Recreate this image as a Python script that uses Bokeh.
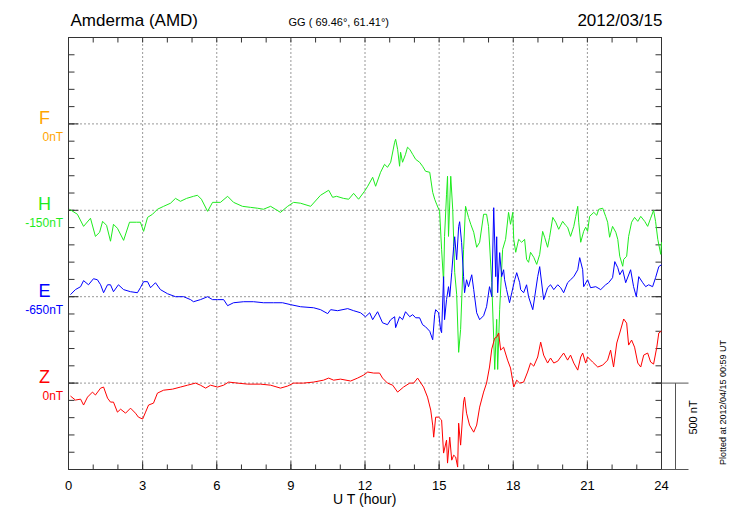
from math import pi
import numpy as np
from bokeh.plotting import figure
from bokeh.models import Range1d
from bokeh.core.properties import value
from bokeh.embed import file_html
from bokeh.resources import INLINE

# ---------------- data (nT deviation from each trace's baseline value) ----------------
station = "Amderma (AMD)"
coords = "GG ( 69.46\u00b0,  61.41\u00b0)"
date = "2012/03/15"
plotted = "Plotted at 2012/04/15 00:59 UT"
x_label = "U T (hour)"

components = ["F", "H", "E", "Z"]
base_labels = ["0nT", "-150nT", "-650nT", "0nT"]
offsets = [2000, 1500, 1000, 500]          # vertical stacking position (nT) on the panel
colors = ["#FFA500", "#1EEB1E", "#0000FF", "#FF0000"]

hour_ticks = [0, 3, 6, 9, 12, 15, 18, 21, 24]
scale_nt = 500

h_t = [0.04, 0.36, 0.61, 0.89, 1.09, 1.26, 1.38, 1.54, 1.70, 1.82, 1.98, 2.23, 2.47, 2.75, 2.91, 3.04, 3.20, 3.40, 3.60, 3.85,
       4.13, 4.33, 4.53, 4.78, 5.06, 5.22, 5.38, 5.63, 5.83, 6.15, 6.44, 6.68, 7.04, 7.37, 7.65, 7.89, 8.18, 8.58, 8.87, 9.11,
       9.39, 9.80, 10.20, 10.53, 10.69, 10.85, 11.13, 11.34, 11.54, 11.74, 11.98, 12.11, 12.31, 12.43, 12.63, 12.79, 12.91, 13.04, 13.20, 13.24,
       13.32, 13.40, 13.44, 13.52, 13.64, 13.72, 13.81, 13.93, 14.05, 14.21, 14.33, 14.45, 14.62, 14.74, 14.82, 14.90, 15.02, 15.10, 15.18, 15.22,
       15.30, 15.34, 15.38, 15.47, 15.55, 15.63, 15.71, 15.79, 15.87, 15.99, 16.07, 16.19, 16.28, 16.40, 16.52, 16.64, 16.80, 16.92, 17.00, 17.13,
       17.21, 17.25, 17.33, 17.37, 17.45, 17.57, 17.69, 17.81, 17.89, 17.98, 18.02, 18.10, 18.22, 18.34, 18.46, 18.54, 18.62, 18.70, 18.83, 18.95,
       19.07, 19.19, 19.27, 19.39, 19.47, 19.60, 19.72, 19.84, 20.00, 20.12, 20.20, 20.32, 20.45, 20.53, 20.61, 20.65, 20.73, 20.85, 20.93, 21.01,
       21.09, 21.26, 21.38, 21.46, 21.62, 21.74, 21.82, 21.90, 22.02, 22.15, 22.23, 22.31, 22.43, 22.47, 22.59, 22.67, 22.79, 22.91, 23.04, 23.16,
       23.32, 23.44, 23.56, 23.68, 23.76, 23.85, 23.97, 24.00]
h_nt = [6, -23, -93, -46, -151, -127, -64, -87, -179, -81, -104, -174, -69, -69, -69, -122, -41, -23, 6, 23,
        41, 69, 52, 69, 81, 87, 64, -6, 46, 46, 81, 46, 23, 17, 12, 6, 23, -12, 23, 46,
        41, 23, 87, 116, 75, 81, 69, 64, 98, 64, 110, 139, 191, 139, 220, 266, 249, 278, 394, 411,
        353, 255, 336, 278, 324, 365, 353, 324, 295, 278, 255, 226, 220, 104, 64, 35, -6, -226, -417, -151,
        93, 197, -151, 197, 6, -359, -486, -822, -689, -226, 23, -41, -81, -127, -214, -185, -23, -23, -93, -417,
        -747, -921, -631, -921, -573, -226, -168, -12, -81, -12, -168, -243, -168, -185, -168, -284, -301, -243, -272, -313,
        -255, -122, -156, -214, -156, -41, -69, -110, -64, -87, -98, -151, -93, -35, 23, -69, -185, -122, -98, -122,
        -35, -12, -29, 6, 12, -35, -69, -156, -93, -127, -168, -266, -324, -284, -266, -151, -69, -41, -64, -35,
        -64, -93, -46, 0, -64, -168, -255, -185]

e_t = [0.08, 0.28, 0.49, 0.61, 0.81, 1.01, 1.17, 1.30, 1.42, 1.58, 1.70, 1.82, 2.02, 2.23, 2.51, 2.79, 2.91, 3.04, 3.20, 3.32,
       3.52, 3.72, 4.01, 4.33, 4.66, 4.94, 5.06, 5.34, 5.63, 5.83, 6.03, 6.28, 6.44, 6.68, 7.09, 7.49, 7.89, 8.30, 8.66, 8.99,
       9.39, 9.92, 10.20, 10.49, 10.61, 10.89, 11.30, 11.54, 11.82, 12.02, 12.19, 12.31, 12.51, 12.71, 12.91, 13.04, 13.20, 13.24, 13.40, 13.52,
       13.64, 13.81, 13.93, 14.05, 14.21, 14.33, 14.45, 14.62, 14.74, 14.82, 14.86, 14.98, 15.06, 15.10, 15.18, 15.22, 15.30, 15.38, 15.43, 15.51,
       15.59, 15.63, 15.71, 15.79, 15.83, 15.91, 15.99, 16.03, 16.11, 16.19, 16.32, 16.40, 16.52, 16.64, 16.80, 16.92, 17.04, 17.13, 17.21, 17.29,
       17.33, 17.37, 17.45, 17.53, 17.61, 17.65, 17.73, 17.85, 17.94, 18.06, 18.14, 18.26, 18.30, 18.42, 18.54, 18.62, 18.79, 18.87, 18.99, 19.07,
       19.23, 19.39, 19.51, 19.64, 19.80, 19.92, 20.04, 20.20, 20.32, 20.45, 20.61, 20.69, 20.81, 20.85, 21.01, 21.13, 21.34, 21.54, 21.74, 21.86,
       22.02, 22.11, 22.23, 22.31, 22.43, 22.55, 22.75, 22.87, 22.98, 23.08, 23.24, 23.36, 23.48, 23.64, 23.76, 23.89, 24.00]
e_nt = [12, 41, 58, 93, 69, 104, 98, 69, 23, 69, 69, 29, 69, 41, 29, 23, 52, 87, 87, 52,
        81, 41, 17, 0, 0, -17, -29, -17, 0, -17, -17, -17, -52, -35, -29, -29, -35, -35, -35, -46,
        -58, -64, -75, -98, -75, -81, -69, -81, -93, -116, -93, -133, -87, -151, -162, -133, -116, -179, -116, -133,
        -87, -116, -104, -122, -122, -162, -174, -200, -249, -104, -75, -93, -191, -208, 116, -133, -17, 58, 0, 139,
        290, 347, 214, 405, 434, 313, 116, 23, 98, 58, 127, 41, -93, -133, -110, -58, 58, 0, 515, 116,
        347, 23, 255, 116, 156, 98, 41, -35, 23, 98, 139, 81, 41, 23, 69, 0, -75, 0, 116, 174,
        -17, 52, 69, 41, 69, 52, 23, 81, 98, 116, 156, 226, 156, 58, 98, 52, 58, 41, 69, 81,
        110, 203, 168, 127, 156, 81, 156, 58, 0, 116, 81, 58, 69, 58, 110, 174, 185]

z_t = [0.08, 0.28, 0.49, 0.61, 0.77, 0.97, 1.09, 1.30, 1.42, 1.58, 1.70, 1.82, 1.98, 2.11, 2.31, 2.51, 2.71, 2.83, 3.00, 3.12,
       3.24, 3.44, 3.60, 3.85, 4.21, 4.53, 4.82, 5.14, 5.34, 5.55, 5.75, 6.03, 6.28, 6.48, 6.84, 7.25, 7.77, 8.18, 8.58, 8.87,
       9.11, 9.51, 9.92, 10.32, 10.53, 10.73, 11.01, 11.42, 11.70, 11.94, 12.11, 12.35, 12.59, 12.71, 12.91, 13.12, 13.32, 13.56, 13.81, 13.97,
       14.13, 14.37, 14.53, 14.66, 14.74, 14.78, 14.86, 14.98, 15.10, 15.18, 15.30, 15.34, 15.43, 15.51, 15.59, 15.67, 15.75, 15.79, 15.87, 15.99,
       16.03, 16.11, 16.23, 16.40, 16.52, 16.64, 16.80, 16.92, 17.04, 17.13, 17.25, 17.33, 17.41, 17.49, 17.61, 17.77, 17.89, 18.02, 18.14, 18.26,
       18.42, 18.58, 18.70, 18.83, 18.99, 19.11, 19.23, 19.39, 19.51, 19.64, 19.80, 19.92, 20.04, 20.20, 20.32, 20.45, 20.61, 20.73, 20.81, 20.93,
       21.01, 21.21, 21.42, 21.62, 21.82, 21.94, 22.06, 22.19, 22.31, 22.47, 22.59, 22.67, 22.79, 22.91, 23.04, 23.16, 23.28, 23.44, 23.56, 23.68,
       23.81, 23.89, 24.00]
z_nt = [-75, -98, -93, -127, -81, -52, -69, -29, -23, -87, -110, -110, -168, -151, -174, -145, -174, -197, -208, -168,
        -127, -116, -58, -41, -35, -23, -12, 0, -12, -29, -12, -23, -12, 6, 0, -6, -6, -12, -29, -17,
        0, 0, 6, 17, 29, 17, 23, 12, 29, 46, 64, 58, 58, 29, 0, -12, -52, -23, 0, 0,
        29, -23, -81, -156, -243, -313, -197, -197, -214, -405, -330, -463, -313, -446, -417, -428, -486, -232, -359, -110,
        -81, -174, -243, -284, -243, -139, -52, 0, 93, 197, 260, 266, 290, 191, 208, 133, 87, -23, 17, 0,
        6, 64, 116, 98, 151, 237, 162, 116, 145, 116, 127, 151, 174, 133, 162, 116, 75, 151, 174, 116,
        151, 122, 93, 104, 133, 191, 93, 232, 290, 371, 347, 220, 249, 208, 116, 93, 162, 174, 122, 110,
        208, 290, 301]

# ---------------- geometry (screen px -> data) ----------------
W, H = 728, 512
FL, FR, FT, FB = 68, 661, 37, 469            # frame edges in canvas px
XMAX, YMAX = 24.0, 2500.0
PX_H = (FR - FL) / XMAX                      # px per hour
NT_PX = YMAX / (FB - FT)                     # nT per px
def hx(px):
    return (px - FL) / PX_H
def ny(py):
    return (FB - py) * NT_PX

FONT = "Liberation Sans"
p = figure(width=W, height=H, output_backend="svg", toolbar_location=None,
           x_range=Range1d(hx(0), hx(W)), y_range=Range1d(ny(H), ny(0)),
           x_axis_location=None, y_axis_location=None,
           min_border=0, min_border_left=0, min_border_right=0, min_border_top=0, min_border_bottom=0)
p.outline_line_color = None
p.background_fill_color = "white"
p.border_fill_color = "white"
p.grid.visible = False

AX = "#333333"
GRID = "#333333"

# dotted grid
gx = [t for t in hour_ticks if 0 < t < XMAX]
p.segment(x0=gx, y0=[0] * len(gx), x1=gx, y1=[YMAX] * len(gx), line_color=GRID, line_dash="1 3", line_width=1)
gy = [v for v in np.arange(scale_nt, YMAX, scale_nt)]
p.segment(x0=[0] * len(gy), y0=gy, x1=[XMAX] * len(gy), y1=gy, line_color=GRID, line_dash="1 3", line_width=1)

# ticks (inward)
minor_h = [h for h in range(0, 25)]
maj_len_x, min_len_x = 8 * NT_PX, 5 * NT_PX
for yb, sgn in ((0, 1), (YMAX, -1)):
    p.segment(x0=minor_h, y0=[yb] * len(minor_h), x1=minor_h,
              y1=[yb + sgn * (min_len_x if yb == 0 else 5 * NT_PX)] * len(minor_h), line_color=AX, line_width=1)
p.segment(x0=hour_ticks, y0=[0] * len(hour_ticks), x1=hour_ticks, y1=[maj_len_x] * len(hour_ticks), line_color=AX, line_width=1)

yminor = list(np.arange(0, YMAX + 1, 100))
ymajor = list(np.arange(0, YMAX + 1, scale_nt))
for xb, sgn in ((0, 1), (XMAX, -1)):
    p.segment(x0=[xb] * len(yminor), y0=yminor, x1=[xb + sgn * 6 / PX_H] * len(yminor), y1=yminor, line_color=AX, line_width=1)
    p.segment(x0=[xb] * len(ymajor), y0=ymajor, x1=[xb + sgn * 10 / PX_H] * len(ymajor), y1=ymajor, line_color=AX, line_width=1)

# frame
p.quad(left=[0], right=[XMAX], bottom=[0], top=[YMAX], fill_color=None, line_color=AX, line_width=1)

# traces
series = {"H": (h_t, h_nt), "E": (e_t, e_nt), "Z": (z_t, z_nt)}
for comp, off, col in zip(components, offsets, colors):
    if comp in series:
        t, v = series[comp]
        p.line(t, [off + a for a in v], line_color=col, line_width=1)

def txt(x, y, s, size, color="black", align="center", baseline="middle", angle=0.0):
    p.text(x=[x], y=[y], text=[s], text_font=value(FONT), text_font_size=size, text_color=color,
           text_align=align, text_baseline=baseline, angle=angle)

# x tick labels
for t in hour_ticks:
    txt(t, ny(485), str(t), "13px")
txt(XMAX / 2, ny(498), x_label, "14px")

# component labels
for comp, lab, off, col in zip(components, base_labels, offsets, colors):
    txt(hx(44), off + 6 * NT_PX, comp, "18px", col)
    txt(hx(62.7), off - 13 * NT_PX, lab, "12px", col, align="right")

# header
txt(hx(70), ny(20), station, "17px", align="left")
txt(hx(288), ny(21), coords, "11px", align="left")
txt(hx(662), ny(20), date, "17px", align="right")

# scale bar
SB = "#555555"
p.segment(x0=[XMAX, XMAX, hx(675)], y0=[scale_nt, 0, 0], x1=[hx(688), hx(688), hx(675)], y1=[scale_nt, 0, scale_nt],
          line_color=SB, line_width=1)
txt(hx(692), ny(417), f"{scale_nt} nT", "11px", angle=pi / 2)
txt(hx(722), ny(402), plotted, "9px", angle=pi / 2)

open("out.html", "w").write(file_html(p, INLINE))
